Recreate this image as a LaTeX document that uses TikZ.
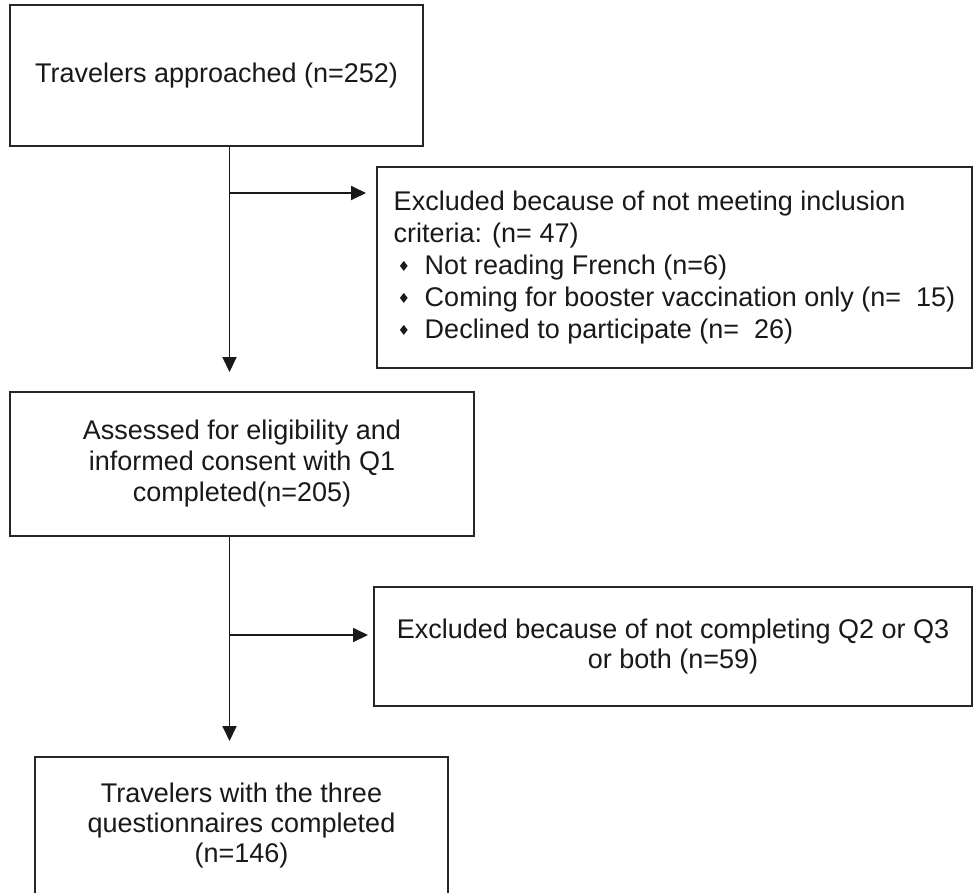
\documentclass[tikz,border=0pt]{standalone}
\usepackage{fontspec}
\setmainfont{Liberation Sans}
\newfontfamily\dejavu{DejaVu Sans}
\usetikzlibrary{arrows.meta,calc}
\newcommand\dbul{\makebox[31pt][l]{\hspace{4pt}\raisebox{3pt}{\dejavu\fontsize{14}{14}\selectfont ♦}}}
\begin{document}
\begin{tikzpicture}[x=1pt,y=-1pt,
  box/.style={draw=black!85, line width=2pt, rectangle, inner sep=0pt,
              font=\fontsize{27}{31}\selectfont, text=black!90, align=center},
  conn/.style={draw=black!90, line width=1.8pt, -{Triangle[length=15pt,width=14pt]}},
  txt/.style={font=\fontsize{27}{30}\selectfont, text=black!90, align=center, inner sep=0pt}]
\useasboundingbox (0,0) rectangle (973,892);
\fill[white] (0,0) rectangle (973,892);
\clip (0,0) rectangle (973,892);
% boxes
\node[box, minimum width=413pt, minimum height=141pt] (top) at (216.5,75.5)
  {Travelers approached (n=252)};
\node[box, minimum width=595pt, minimum height=201pt, align=left,
      font=\fontsize{27}{32}\selectfont] (ex1) at (674.5,267.5)
  {Excluded because of not meeting inclusion\\
   criteria: (n= 47)\\
   \dbul Not reading French (n=6)\\
   \dbul Coming for booster vaccination only (n=\ \ 15)\\
   \dbul Declined to participate (n=\ \ 26)};
\node[box, minimum width=464pt, minimum height=144pt] (as) at (242,464)
  {Assessed for eligibility and\\informed consent with Q1\\completed(n=205)};
\node[box, minimum width=598pt, minimum height=119pt, font=\fontsize{27}{30}\selectfont] (ex2) at (673,646.5)
  {Excluded because of not completing Q2 or Q3\\or both (n=59)};
\node[box, minimum width=413pt, minimum height=160pt] (bot) at (241.5,837) {};
\node[txt] (bottxt) at (241.5,825)
  {Travelers with the three\\questionnaires completed\\(n=146)};
% connectors
\coordinate (spine) at (229.5,0);
\coordinate (b1) at (229.5,193);
\coordinate (b2) at (229.5,635);
\draw[conn, shorten >=19pt] (top.south -| spine) -- (as.north -| spine);
\draw[conn, shorten >=10pt] (b1) -- (b1 -| ex1.west);
\draw[conn, shorten >=15pt] (as.south -| spine) -- (bot.north -| spine);
\draw[conn, shorten >=5pt] (b2) -- (b2 -| ex2.west);
\end{tikzpicture}
\end{document}
